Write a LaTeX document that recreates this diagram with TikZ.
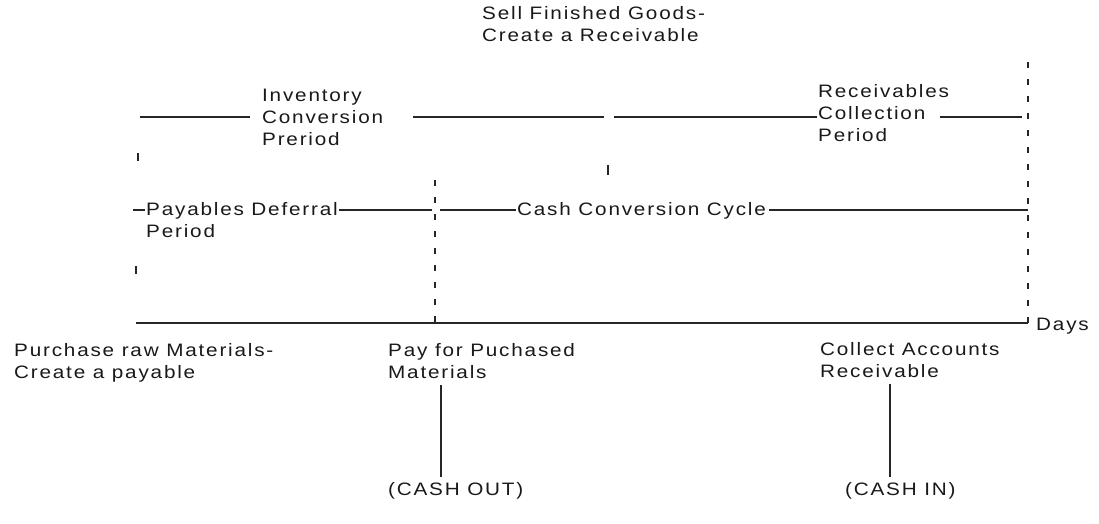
\documentclass[tikz,border=0pt]{standalone}
\usepackage{fontspec}
\setmainfont[FakeStretch=1.15,LetterSpace=10]{Liberation Sans}
\begin{document}
\begin{tikzpicture}[x=1pt,y=-1pt,
  lbl/.style={inner sep=0pt,anchor=base west,align=left,text=black!90,font=\fontsize{18}{22}\selectfont},
  ln/.style={draw=black!85,line width=1.3pt},
  dsh/.style={draw=black!85,line width=1.3pt,dash pattern=on 6pt off 11pt}]
\useasboundingbox (0,0) rectangle (1099,523);
% labels (anchor = baseline of the last line)
\node[lbl] (sell) at (482,41) {Sell Finished Goods-\\Create a Receivable};
\node[lbl] (inv) at (262,145) {Inventory\\Conversion\\Preriod};
\node[lbl] (recv) at (818,141) {Receivables\\Collection\\Period};
\node[lbl] (pay) at (146,237) {Payables Deferral\\Period};
\node[lbl] (ccc) at (517,215) {Cash Conversion Cycle};
\node[lbl] (days) at (1036,330) {Days};
\node[lbl] (purch) at (14,378) {Purchase raw Materials-\\Create a payable};
\node[lbl] (paymat) at (388,378) {Pay for Puchased\\Materials};
\node[lbl] (coll) at (820,377) {Collect Accounts\\Receivable};
\node[lbl] (cashout) at (388,495) {(CASH OUT)};
\node[lbl] (cashin) at (845,495) {(CASH IN)};
% coordinates
\coordinate (t1) at (140,117); \coordinate (t2) at (250,117);
\coordinate (t3) at (413,117); \coordinate (t4) at (604,117);
\coordinate (t5) at (614,117);
\coordinate (t7) at (940,117); \coordinate (t8) at (1022,117);
\coordinate (m1) at (133,210);
\coordinate (m4) at (432,210);
\coordinate (m5) at (440,210);
\coordinate (m8) at (1028,210);
\coordinate (a1) at (136,323); \coordinate (a2) at (1028,323);
\coordinate (d1) at (1028,62); \coordinate (d2) at (435,180);
\coordinate (d2b) at (435,323);
\coordinate (xo) at (441,0); \coordinate (xi) at (890,0);
% top row
\draw[ln] (t1) -- (t2);
\draw[ln] (t3) -- (t4);
\draw[ln] (t5) -- ([xshift=-1pt]recv.west |- t5);
\draw[ln] (t7) -- (t8);
% middle row
\draw[ln] (m1) -- ([xshift=-1pt]pay.west |- m1);
\draw[ln] ([xshift=1pt]pay.east |- m1) -- (m4);
\draw[ln] (m5) -- ([xshift=-1pt]ccc.west |- m5);
\draw[ln] ([xshift=3pt]ccc.east |- m5) -- (m8);
% axis
\draw[ln] (a1) -- (a2);
% dashed verticals
\draw[dsh] (d1) -- (a2);
\draw[dsh] (d2) -- (d2b);
% small ticks
\coordinate (k1) at (138,153); \coordinate (k2) at (138,161);
\coordinate (k3) at (608,165); \coordinate (k4) at (608,175);
\coordinate (k5) at (136,266); \coordinate (k6) at (136,274);
\draw[ln] (k1) -- (k2);
\draw[ln] (k3) -- (k4);
\draw[ln] (k5) -- (k6);
% cash connectors
\draw[ln] ([yshift=5pt]cashout.north -| xo) -- ([yshift=-7pt]paymat.south -| xo);
\draw[ln] ([yshift=5pt]cashin.north -| xi) -- ([yshift=-7pt]coll.south -| xi);
\end{tikzpicture}
\end{document}
